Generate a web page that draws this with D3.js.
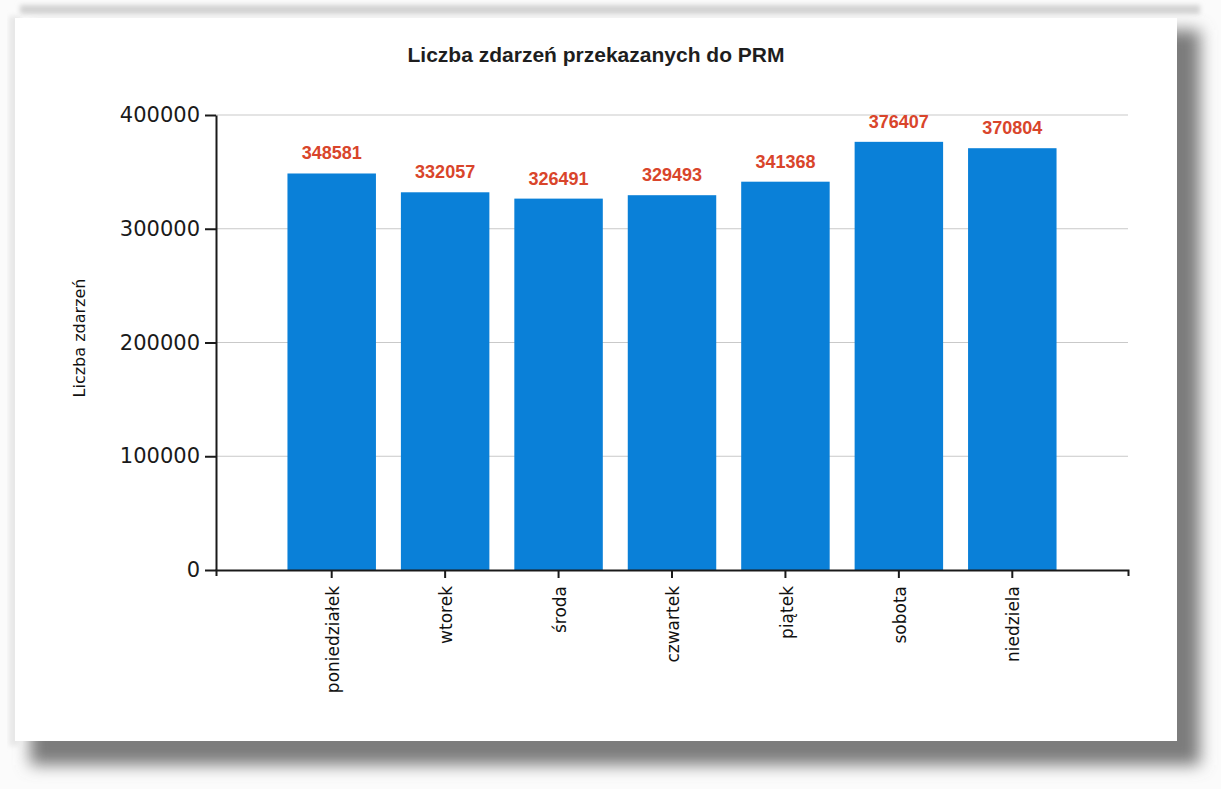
<!DOCTYPE html>
<html>
<head>
<meta charset="utf-8">
<script src="https://cdn.jsdelivr.net/npm/d3@7"></script>
<style>
  html, body { margin: 0; padding: 0; background: #ffffff; }
  svg { display: block; }
</style>
</head>
<body>
<svg id="chart" width="1221" height="789"></svg>
<script>
// ---- data ----
const categories = ["poniedziałek", "wtorek", "środa", "czwartek", "piątek", "sobota", "niedziela"];
const values = [348581, 332057, 326491, 329493, 341368, 376407, 370804];
const yTicks = [0, 100000, 200000, 300000, 400000];
const chartTitle = "Liczba zdarzeń przekazanych do PRM";
const yTitle = "Liczba zdarzeń";

const W = 1221, H = 789;
const svg = d3.select("#chart");

// ---- card with shadow ----
const defs = svg.append("defs");
const f = defs.append("filter").attr("id", "shadow").attr("x", "-10%").attr("y", "-10%").attr("width", "120%").attr("height", "120%");
f.append("feGaussianBlur").attr("stdDeviation", 8);
const f2 = defs.append("filter").attr("id", "soft").attr("x", "-10%").attr("y", "-100%").attr("width", "120%").attr("height", "300%");
f2.append("feGaussianBlur").attr("stdDeviation", 2.5);

svg.append("rect").attr("x", 0).attr("y", 0).attr("width", W).attr("height", H).attr("fill", "#fbfbfb");
// scanned strip at top
svg.append("rect").attr("x", 20).attr("y", 5).attr("width", 1180).attr("height", 9)
  .attr("fill", "#d2d2d2").attr("filter", "url(#soft)");
// shadow
svg.append("rect").attr("x", 30).attr("y", 30).attr("width", 1170).attr("height", 735)
  .attr("fill", "#7c7c7c").attr("filter", "url(#shadow)");
svg.append("rect").attr("x", 9).attr("y", 16).attr("width", 12).attr("height", 730)
  .attr("fill", "#e8e8e8").attr("filter", "url(#soft)");
// card
svg.append("rect").attr("x", 15).attr("y", 18).attr("width", 1162).attr("height", 723).attr("fill", "#ffffff");

// ---- scales ----
const x = d3.scaleBand().domain(categories).range([216, 1128]).paddingInner(0.22).paddingOuter(0.63);
const y = d3.scaleLinear().domain([0, 400000]).range([570, 115]);

// gridlines
svg.append("g").selectAll("line").data(yTicks.filter(d => d > 0)).join("line")
  .attr("x1", 216).attr("x2", 1128)
  .attr("y1", d => y(d)).attr("y2", d => y(d))
  .attr("stroke", "#c9c9c9").attr("stroke-width", 1);

// bars
svg.append("g").selectAll("rect").data(values).join("rect")
  .attr("x", (d, i) => x(categories[i]))
  .attr("width", x.bandwidth())
  .attr("y", d => y(d))
  .attr("height", d => y(0) - y(d))
  .attr("fill", "#0a80d8");

// value labels
svg.append("g").selectAll("text").data(values).join("text")
  .attr("x", (d, i) => x(categories[i]) + x.bandwidth() / 2)
  .attr("y", d => y(d) - 14)
  .attr("text-anchor", "middle")
  .attr("font-family", "'Liberation Sans', Arial, sans-serif")
  .attr("font-weight", "bold")
  .attr("font-size", 18)
  .attr("fill", "#d9452b")
  .text(d => d);

// y axis
const yAxis = svg.append("g").attr("transform", "translate(216,0)")
  .call(d3.axisLeft(y).tickValues(yTicks).tickFormat(d3.format("d")).tickSize(11).tickSizeOuter(0).tickPadding(5));
yAxis.select(".domain").attr("stroke", "#1a1a1a").attr("stroke-width", 2);
yAxis.selectAll(".tick line").attr("stroke", "#1a1a1a").attr("stroke-width", 2);
yAxis.selectAll(".tick text").attr("font-family", "'DejaVu Sans', Verdana, sans-serif")
  .attr("font-size", 21).attr("fill", "#1a1a1a");

// x axis
const xAxis = svg.append("g").attr("transform", "translate(0,570)")
  .call(d3.axisBottom(x).tickSize(8).tickSizeOuter(6).tickPadding(0));
xAxis.select(".domain").attr("stroke", "#1a1a1a").attr("stroke-width", 2);
xAxis.selectAll(".tick line").attr("stroke", "#1a1a1a").attr("stroke-width", 2);
xAxis.selectAll(".tick text")
  .attr("font-family", "'DejaVu Sans', Verdana, sans-serif")
  .attr("font-size", 17).attr("fill", "#111")
  .attr("text-anchor", "end")
  .attr("transform", "translate(0,16) rotate(-90)")
  .attr("x", 0).attr("y", 0).attr("dy", "0.42em");

// title
svg.append("text").attr("x", 596).attr("y", 62).attr("text-anchor", "middle")
  .attr("font-family", "'Liberation Sans', Arial, sans-serif")
  .attr("font-weight", "bold").attr("font-size", 21).attr("fill", "#1e1e1e")
  .text(chartTitle);

// y title
svg.append("text").attr("transform", "translate(85,338) rotate(-90)")
  .attr("text-anchor", "middle")
  .attr("font-family", "'DejaVu Sans', Verdana, sans-serif")
  .attr("font-size", 16).attr("fill", "#111")
  .text(yTitle);
</script>
</body>
</html>
